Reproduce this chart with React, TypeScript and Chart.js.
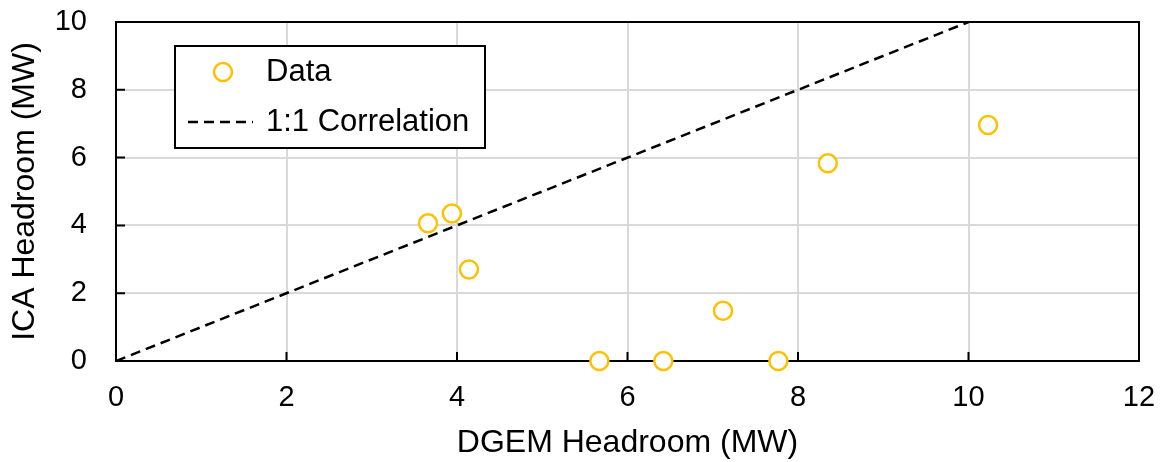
import React, { useEffect, useRef } from 'react';
import { Chart, registerables } from 'chart.js';
Chart.register(...registerables);

const dgemHeadroom = [3.66, 3.94, 4.14, 5.67, 6.42, 7.12, 7.77, 8.35, 10.23];
const icaHeadroom = [4.06, 4.35, 2.7, 0, 0, 1.48, 0, 5.83, 6.96];
const corrX = [0, 10];
const corrY = [0, 10];
const xTicks = [0, 2, 4, 6, 8, 10, 12];
const yTicks = [0, 2, 4, 6, 8, 10];
const seriesLabels = ['Data', '1:1 Correlation'];
const xTitle = 'DGEM Headroom (MW)';
const yTitle = 'ICA Headroom (MW)';

const FONT = "'Liberation Sans', Arial, sans-serif";
const GOLD = '#FFC000';

export default function App() {
  const ref = useRef<HTMLCanvasElement | null>(null);

  useEffect(() => {
    document.body.style.margin = '0';
    const canvas = ref.current;
    if (!canvas) return;

    const framePlugin = {
      id: 'frame',
      beforeDatasetsDraw(chart: any) {
        const { ctx, chartArea: a, scales } = chart;
        ctx.save();
        ctx.strokeStyle = '#000';
        ctx.lineWidth = 2;
        ctx.strokeRect(a.left, a.top, a.right - a.left, a.bottom - a.top);
        ctx.beginPath();
        for (const v of yTicks) {
          const y = scales.y.getPixelForValue(v);
          ctx.moveTo(a.left, y);
          ctx.lineTo(a.left + 9, y);
        }
        for (const v of xTicks) {
          const x = scales.x.getPixelForValue(v);
          ctx.moveTo(x, a.bottom);
          ctx.lineTo(x, a.bottom - 9);
        }
        ctx.stroke();
        ctx.restore();
      },
      afterDatasetsDraw(chart: any) {
        const { ctx, chartArea: a } = chart;
        const bx = a.left + 59;
        const by = a.top + 24;
        const bw = 310;
        const bh = 102;
        ctx.save();
        ctx.fillStyle = '#fff';
        ctx.fillRect(bx, by, bw, bh);
        ctx.strokeStyle = '#000';
        ctx.lineWidth = 2;
        ctx.strokeRect(bx, by, bw, bh);
        ctx.beginPath();
        ctx.arc(bx + 48, by + 26, 9, 0, Math.PI * 2);
        ctx.fillStyle = '#fff';
        ctx.fill();
        ctx.strokeStyle = GOLD;
        ctx.lineWidth = 2.5;
        ctx.stroke();
        ctx.beginPath();
        ctx.setLineDash([10, 6]);
        ctx.strokeStyle = '#000';
        ctx.lineWidth = 2.5;
        ctx.moveTo(bx + 13, by + 76);
        ctx.lineTo(bx + 78, by + 76);
        ctx.stroke();
        ctx.setLineDash([]);
        ctx.fillStyle = '#000';
        ctx.font = `31px ${FONT}`;
        ctx.textBaseline = 'middle';
        ctx.textAlign = 'left';
        ctx.fillText(chart.data.datasets[0].label, bx + 91, by + 26);
        ctx.fillText(chart.data.datasets[1].label, bx + 91, by + 76);
        ctx.restore();
      },
    };

    const chart = new Chart(canvas, {
      type: 'scatter',
      data: {
        datasets: [
          {
            label: seriesLabels[0],
            data: dgemHeadroom.map((x, i) => ({ x, y: icaHeadroom[i] })),
            pointRadius: 9,
            pointHoverRadius: 9,
            pointBorderWidth: 2.5,
            pointBorderColor: GOLD,
            pointBackgroundColor: '#fff',
            showLine: false,
            clip: false as any,
          },
          {
            label: seriesLabels[1],
            data: corrX.map((x, i) => ({ x, y: corrY[i] })),
            showLine: true,
            borderColor: '#000',
            borderWidth: 2.5,
            borderDash: [10, 6],
            pointRadius: 0,
            pointHoverRadius: 0,
            fill: false,
          },
        ],
      },
      options: {
        responsive: false,
        animation: false,
        events: [],
        layout: { padding: { top: 22, right: 24, left: 0, bottom: 0 } },
        plugins: { legend: { display: false }, tooltip: { enabled: false } },
        scales: {
          x: {
            type: 'linear',
            min: 0,
            max: 12,
            afterBuildTicks: (s: any) => {
              s.ticks = xTicks.map((v) => ({ value: v }));
            },
            afterFit: (s: any) => {
              s.height = 101;
              s.paddingLeft = 0;
              s.paddingRight = 0;
            },
            grid: { color: '#d9d9d9', lineWidth: 2, drawTicks: false },
            border: { display: false },
            ticks: { color: '#000', padding: 20, font: { family: FONT, size: 29 } },
            title: {
              display: true,
              text: xTitle,
              color: '#000',
              font: { family: FONT, size: 32 },
              padding: { top: 0, bottom: 0 },
            },
          },
          y: {
            type: 'linear',
            min: 0,
            max: 10,
            afterBuildTicks: (s: any) => {
              s.ticks = yTicks.map((v) => ({ value: v }));
            },
            afterFit: (s: any) => {
              s.width = 116;
              s.paddingTop = 0;
              s.paddingBottom = 0;
            },
            grid: { color: '#d9d9d9', lineWidth: 2, drawTicks: false },
            border: { display: false },
            ticks: { color: '#000', padding: 29, font: { family: FONT, size: 29 } },
            title: {
              display: true,
              text: yTitle,
              color: '#000',
              font: { family: FONT, size: 32 },
              padding: { top: 6, bottom: 0 },
            },
          },
        },
      },
      plugins: [framePlugin],
    });

    return () => chart.destroy();
  }, []);

  return (
    <div style={{ width: 1163, height: 462 }}>
      <canvas ref={ref} width={1163} height={462} />
    </div>
  );
}
